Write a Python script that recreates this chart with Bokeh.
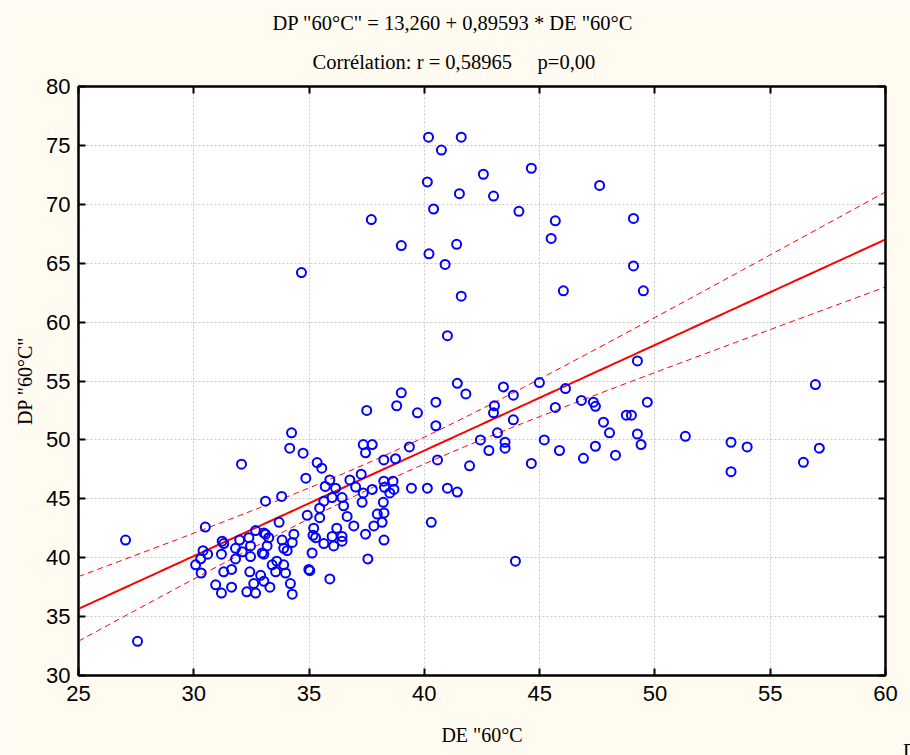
import numpy as np
from bokeh.plotting import figure
from bokeh.models import Range1d, LinearAxis, FixedTicker, Title
from bokeh.embed import file_html
from bokeh.resources import INLINE

# ---- data ----
DE = [34.16, 34.74, 32.07, 35.35, 35.55, 37.35, 37.74, 37.45, 34.86, 38.24,
      38.75, 35.9, 37.26, 36.77, 35.7, 36.15, 37.02, 37.35, 37.74, 38.24,
      38.27, 38.64, 38.68, 38.5, 38.22, 38.25, 37.96, 38.17, 37.81, 37.45,
      38.25, 37.55, 37.3, 36.94, 36.65, 36.5, 36.43, 36.0, 35.64, 35.46,
      34.92, 35.46, 35.2, 35.17, 35.28, 35.64, 36.0, 36.2, 36.43, 36.43,
      36.07, 35.13, 34.99, 35.03, 35.9, 34.27, 34.19, 33.98, 33.9, 33.55,
      33.3, 33.04, 32.9, 32.68, 32.3, 32.6, 32.43, 31.64, 31.2, 30.95,
      31.3, 31.64, 31.81, 31.2, 30.6, 30.3, 30.08, 30.32, 30.4, 30.5,
      31.23, 31.3, 31.99, 32.39, 32.46, 32.68, 33.04, 33.25, 33.18, 32.97,
      32.46, 33.04, 33.4, 33.6, 33.83, 34.05, 34.27, 34.34, 33.7, 33.11,
      33.81, 33.11, 33.9, 31.81, 32.1,
      40.18, 41.6, 40.74, 44.64, 42.56, 40.13, 41.52, 43.0, 40.4, 44.1,
      37.7, 45.68, 45.5, 39.0, 41.4, 40.2, 40.9, 34.67, 41.6, 41.0,
      47.6, 49.07, 49.07, 46.03, 49.5, 49.24,
      41.43, 43.43, 41.8, 43.86, 39.0, 38.8, 37.5, 39.7, 40.5, 43.04,
      43.0, 43.86, 40.5, 43.17, 42.43, 43.5, 42.8, 43.5, 41.96, 40.57,
      39.35, 34.24,
      39.44, 40.13,
      44.99, 46.12, 45.68, 46.81, 47.33, 47.42, 49.67, 48.76, 48.98, 47.77,
      48.03, 49.24, 49.4, 45.2, 45.86, 47.42, 46.9, 48.29, 44.64, 41.0,
      41.43, 40.3, 43.95,
      56.96, 51.32, 53.3, 54.0, 57.13, 56.44, 53.3,
      27.04, 27.56]

DP = [49.3, 48.87, 47.94, 48.08, 47.6, 49.6, 49.6, 48.9, 46.75, 48.3,
      48.4, 46.6, 47.09, 46.6, 46.05, 45.9, 46.0, 45.5, 45.8, 46.5,
      45.97, 46.5, 45.8, 45.5, 44.7, 43.8, 43.7, 43.0, 42.7, 42.0,
      41.5, 39.9, 44.7, 42.7, 43.5, 44.4, 45.1, 45.1, 44.8, 44.2,
      43.6, 43.4, 42.5, 41.9, 41.7, 41.2, 41.8, 42.5, 41.8, 41.4,
      41.0, 40.4, 39.0, 38.9, 38.2, 36.9, 37.8, 38.7, 39.4, 38.8,
      37.5, 38.0, 38.5, 37.0, 37.1, 37.8, 38.8, 37.5, 37.0, 37.7,
      38.8, 39.0, 39.9, 40.3, 40.3, 39.9, 39.4, 38.7, 40.6, 42.6,
      41.4, 41.2, 41.5, 41.7, 41.0, 42.3, 42.1, 41.7, 41.0, 40.4,
      40.1, 40.3, 39.4, 39.7, 41.5, 40.6, 41.3, 42.0, 43.0, 44.8,
      45.2, 42.0, 40.8, 40.8, 40.5,
      75.7, 75.7, 74.6, 73.06, 72.55, 71.9, 70.9, 70.7, 69.6, 69.4,
      68.7, 68.6, 67.1, 66.5, 66.6, 65.8, 64.9, 64.2, 62.2, 58.85,
      71.6, 68.8, 64.77, 62.66, 62.66, 56.7,
      54.8, 54.5, 53.9, 53.8, 54.0, 52.9, 52.5, 52.3, 53.2, 52.9,
      52.3, 51.7, 51.2, 50.6, 50.0, 49.8, 49.1, 49.3, 47.8, 48.3,
      49.4, 50.6,
      45.9, 45.9,
      54.87, 54.36, 52.76, 53.35, 53.2, 52.85, 53.2, 52.1, 52.1, 51.5,
      50.6, 50.5, 49.6, 50.0, 49.1, 49.46, 48.44, 48.7, 48.0, 45.9,
      45.57, 43.0, 39.7,
      54.7, 50.3, 49.8, 49.4, 49.3, 48.1, 47.3,
      41.5, 32.9]

INTERCEPT = 13.260
SLOPE = 0.89593
T_CRIT = 1.973
X_TICKS = [25, 30, 35, 40, 45, 50, 55, 60]
Y_TICKS = [30, 35, 40, 45, 50, 55, 60, 65, 70, 75, 80]
TITLE1 = 'DP "60°C" = 13,260 + 0,89593 * DE "60°C'
TITLE2 = 'Corrélation: r = 0,58965\u00a0\u00a0\u00a0\u00a0\u00a0p=0,00'
XLABEL = 'DE "60°C'
YLABEL = 'DP "60°C"'
CORNER_TEXT = 'D'

SERIF = "Liberation Serif"
NUMFONT = "'Liberation Sans Narrow', 'Liberation Sans'"
W, H = 910, 755

p = figure(width=W, height=H, x_range=Range1d(25, 60), y_range=Range1d(30, 80),
           output_backend="svg", toolbar_location=None, title=None,
           min_border_left=78, min_border_right=25, min_border_top=86, min_border_bottom=78)
p.background_fill_color = "white"
p.border_fill_color = "#FFFBF0"
p.outline_line_color = "black"
p.outline_line_width = 2


def style_axis(ax, labels=True):
    ax.major_tick_in = 7
    ax.major_tick_out = 0
    ax.minor_tick_line_color = None
    ax.axis_line_color = "black"
    ax.axis_line_width = 2
    ax.major_tick_line_color = "black"
    ax.major_tick_line_width = 2
    if labels:
        ax.major_label_text_font = NUMFONT
        ax.major_label_text_font_size = "22px"
        ax.major_label_text_color = "black"
    else:
        ax.major_label_text_font_size = "1px"
        ax.major_label_text_color = None
        ax.major_label_standoff = 0


p.xaxis.ticker = FixedTicker(ticks=X_TICKS)
p.yaxis.ticker = FixedTicker(ticks=Y_TICKS)
style_axis(p.xaxis[0])
style_axis(p.yaxis[0])
p.xaxis.major_label_standoff = 10
p.yaxis.major_label_standoff = 8
p.xaxis.axis_label = XLABEL
p.yaxis.axis_label = YLABEL
for ax in (p.xaxis[0], p.yaxis[0]):
    ax.axis_label_text_font = SERIF
    ax.axis_label_text_font_size = "20px"
    ax.axis_label_text_font_style = "normal"
    ax.axis_label_text_color = "black"
p.xaxis.axis_label_standoff = 20
p.yaxis.axis_label_standoff = 7

top = LinearAxis(ticker=FixedTicker(ticks=X_TICKS))
style_axis(top, labels=False)
p.add_layout(top, "above")
right = LinearAxis(ticker=FixedTicker(ticks=Y_TICKS))
style_axis(right, labels=False)
p.add_layout(right, "right")

p.xgrid.ticker = FixedTicker(ticks=X_TICKS)
p.ygrid.ticker = FixedTicker(ticks=Y_TICKS)
for g in (p.xgrid[0], p.ygrid[0]):
    g.grid_line_color = "#c8c8c8"
    g.grid_line_dash = "2 2"
    g.grid_line_width = 1

# regression line and 95% confidence band
x = np.asarray(DE, dtype=float)
y = np.asarray(DP, dtype=float)
n = len(x)
resid = y - (INTERCEPT + SLOPE * x)
s = np.sqrt(np.sum(resid ** 2) / (n - 2))
xm = x.mean()
sxx = np.sum((x - xm) ** 2)
xg = np.linspace(25, 60, 141)
yg = INTERCEPT + SLOPE * xg
half = T_CRIT * s * np.sqrt(1.0 / n + (xg - xm) ** 2 / sxx)

p.line(xg, yg + half, line_color="#FF0000", line_width=1, line_dash="6 4")
p.line(xg, yg - half, line_color="#FF0000", line_width=1, line_dash="6 4")
p.line(xg, yg, line_color="#FF0000", line_width=2)

p.scatter(DE, DP, marker="circle", size=9, fill_color=None,
          line_color="#0000FF", line_width=2)

# two-line title above the frame (nearest first)
p.add_layout(Title(text=TITLE2, align="left", offset=234, standoff=27,
                   text_font=SERIF, text_font_size="20.5px", text_font_style="normal",
                   text_color="black"), "above")
p.add_layout(Title(text=TITLE1, align="left", offset=194, standoff=4,
                   text_font=SERIF, text_font_size="20.5px", text_font_style="normal",
                   text_color="black"), "above")

# stray fragment at the window's bottom-right corner (cut by the edge)
p.add_layout(Title(text=CORNER_TEXT, align="right", offset=-32, standoff=-17,
                   vertical_align="top",
                   text_font=SERIF, text_font_size="20px", text_font_style="normal",
                   text_color="black"), "below")

open("out.html", "w").write(file_html(p, INLINE))
